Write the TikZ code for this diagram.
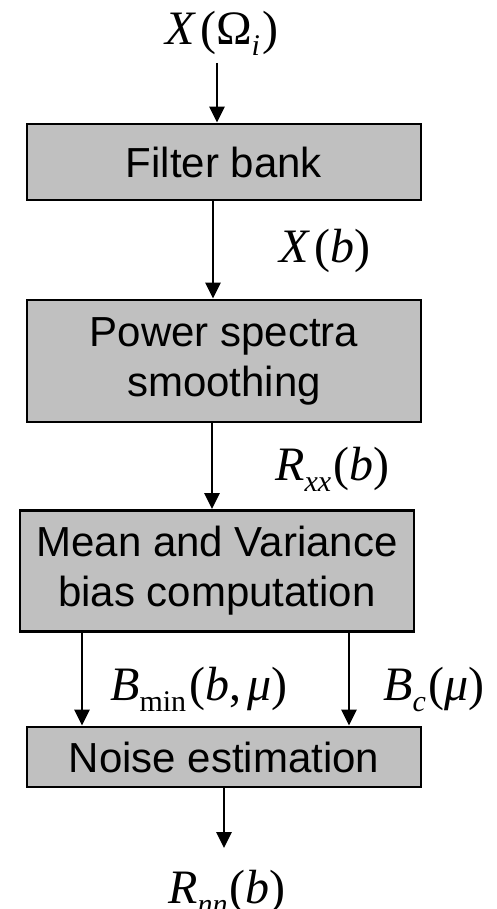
\documentclass[tikz,border=0pt]{standalone}
\usepackage{fontspec}
\setmainfont{Liberation Sans}
\newfontfamily\tms{Liberation Serif}
\usetikzlibrary{arrows.meta}
\definecolor{boxgray}{HTML}{C0C0C0}
\newcommand{\lbl}{\tms\fontsize{48}{48}\selectfont}
\newcommand{\subsc}[1]{\lower11pt\hbox{\fontsize{30}{30}\selectfont #1}}
\tikzset{
  blockbox/.style={draw=black, fill=boxgray, line width=2.8pt, minimum width=394pt,
    align=center, font=\fontsize{42}{50}\selectfont, inner sep=0pt},
  arr/.style={line width=2.8pt, -{Triangle[length=16pt,width=15pt]}},
  mlabel/.style={inner sep=0pt, anchor=base west, font=\lbl}
}
\begin{document}
\begin{tikzpicture}[x=1pt,y=-1pt]
\useasboundingbox (0,0) rectangle (497,909);
\node[blockbox, minimum height=76pt] (fb) at (224,162) {Filter bank};
\node[blockbox, minimum height=122pt] (ps) at (224,361) {Power spectra\\smoothing};
\node[blockbox, minimum height=121pt] (mv) at (217,571) {Mean and Variance\\bias computation};
\node[blockbox, minimum height=60pt] (ne) at (224,757) {Noise estimation};

\node[mlabel] (lin) at (165,45) {\textit{X}\hspace{4pt}(Ω\subsc{\itshape i}\hspace{2pt})};
\node[mlabel] (lxb) at (279,262) {\textit{X}\hspace{4pt}(\textit{b})};
\node[mlabel] (lrxx) at (275,480) {\textit{R}\subsc{\itshape xx}\hspace{2pt}(\textit{b})};
\node[mlabel] (lbmin) at (110,700) {\textit{B}\subsc{min}\hspace{3pt}(\textit{b},\hspace{6pt}\textit{μ})};
\node[mlabel] (lbc) at (383,700) {\textit{B}\subsc{\itshape c}\hspace{3pt}(\textit{μ})};
\node[mlabel] (lrnn) at (168,903) {\textit{R}\subsc{\itshape nn}\hspace{2pt}(\textit{b})};

\coordinate (tin) at (217,63);
\coordinate (tout) at (224,848);
\draw[arr] (tin) -- (tin |- fb.north);
\draw[arr] ([xshift=-11pt]fb.south) -- ([xshift=-11pt]ps.north);
\draw[arr] ([xshift=-12pt]ps.south) -- ([xshift=-12pt]ps.south |- mv.north);
\draw[arr] ([xshift=-135pt]mv.south) -- ([xshift=-135pt]mv.south |- ne.north);
\draw[arr] ([xshift=132pt]mv.south) -- ([xshift=132pt]mv.south |- ne.north);
\draw[arr] (ne.south) -- (tout);
\end{tikzpicture}
\end{document}
